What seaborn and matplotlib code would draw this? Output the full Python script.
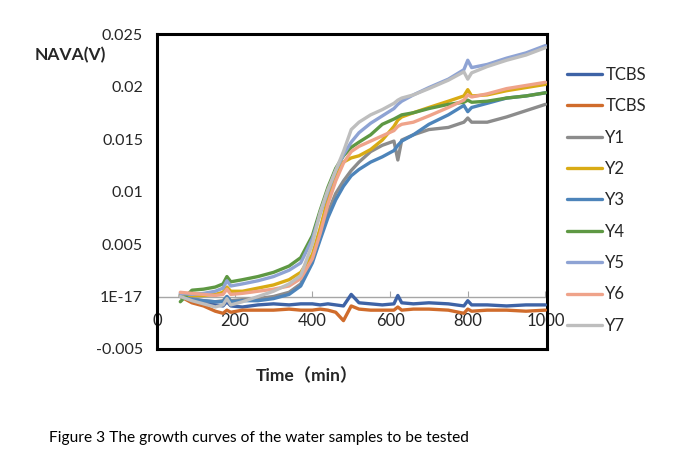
import numpy as np
import pandas as pd
import matplotlib
matplotlib.use("Agg")
import matplotlib.pyplot as plt
import seaborn as sns

# time axis (min), values in units of 1e-3 V
time = [60, 90, 120, 150, 170, 180, 190, 220, 260, 300, 340, 370, 400, 420, 440,
        460, 480, 500, 520, 550, 580, 610, 620, 630, 660, 700, 750, 790, 800, 810,
        850, 900, 950, 1000]

tcbs_1 = [0.2, -0.3, -0.6, -0.8, -0.9, -0.5, -0.9, -1.0, -0.8, -0.7, -0.8, -0.7, -0.7, -0.8, -0.7,
          -0.8, -0.9, 0.2, -0.6, -0.7, -0.8, -0.7, 0.1, -0.6, -0.7, -0.6, -0.7, -0.9, -0.4, -0.8,
          -0.8, -0.9, -0.8, -0.8]
tcbs_2 = [0.0, -0.6, -0.9, -1.4, -1.6, -1.3, -1.5, -1.3, -1.3, -1.3, -1.2, -1.3, -1.3, -1.2, -1.3,
          -1.5, -2.3, -0.9, -1.2, -1.3, -1.3, -1.3, -1.0, -1.3, -1.2, -1.2, -1.3, -1.6, -1.2, -1.4,
          -1.3, -1.3, -1.4, -1.3]
y1 = [0.1, -0.2, -0.4, -0.5, -0.4, 0.0, -0.4, -0.3, -0.2, 0.0, 0.4, 1.2, 3.5, 5.6, 8.0,
      9.8, 11.0, 12.0, 12.8, 13.8, 14.4, 14.8, 13.0, 14.9, 15.4, 15.9, 16.1, 16.6, 17.0, 16.6,
      16.6, 17.1, 17.7, 18.3]
y2 = [0.1, 0.1, 0.1, 0.2, 0.4, 0.9, 0.5, 0.5, 0.8, 1.1, 1.6, 2.3, 4.0, 6.5, 9.3,
      11.5, 12.8, 13.2, 13.4, 14.0, 14.9, 16.2, 16.8, 17.1, 17.5, 18.0, 18.6, 19.1, 19.7, 19.1,
      19.2, 19.6, 19.9, 20.2]
y3 = [0.0, -0.3, -0.4, -0.5, -0.5, 0.0, -0.5, -0.4, -0.4, -0.2, 0.2, 1.0, 3.2, 5.4, 7.5,
      9.2, 10.5, 11.5, 12.1, 12.8, 13.3, 13.9, 14.4, 14.8, 15.4, 16.4, 17.3, 18.2, 17.6, 18.0,
      18.4, 18.9, 19.1, 19.4]
y4 = [-0.5, 0.6, 0.7, 0.9, 1.2, 1.9, 1.4, 1.6, 1.9, 2.3, 2.9, 3.7, 5.8, 8.2, 10.4,
      12.2, 13.4, 14.2, 14.7, 15.4, 16.4, 16.9, 17.1, 17.3, 17.5, 17.9, 18.3, 18.5, 18.7, 18.5,
      18.6, 18.9, 19.1, 19.4]
y5 = [0.3, 0.2, 0.3, 0.5, 0.8, 1.5, 1.0, 1.2, 1.5, 1.9, 2.5, 3.2, 5.5, 7.9, 10.0,
      12.0, 13.5, 14.7, 15.6, 16.5, 17.2, 17.9, 18.3, 18.6, 19.2, 19.9, 20.7, 21.6, 22.5, 21.8,
      22.1, 22.7, 23.2, 23.9]
y6 = [0.4, 0.3, 0.2, 0.1, 0.2, 0.7, 0.2, 0.3, 0.5, 0.7, 1.0, 1.7, 3.6, 6.0, 8.8,
      11.0, 12.7, 13.8, 14.3, 14.8, 15.3, 15.8, 16.2, 16.4, 16.6, 17.2, 18.0, 18.7, 19.2, 19.0,
      19.3, 19.8, 20.1, 20.4]
y7 = [0.0, -0.4, -0.7, -1.0, -0.8, -0.2, -0.8, -0.5, 0.0, 0.5, 1.2, 2.0, 5.0, 8.0, 10.2,
      12.0, 13.8, 15.9, 16.6, 17.3, 17.8, 18.4, 18.7, 18.9, 19.2, 19.8, 20.6, 21.4, 20.7, 21.3,
      21.9, 22.5, 23.0, 23.7]

names = ["TCBS", "TCBS", "Y1", "Y2", "Y3", "Y4", "Y5", "Y6", "Y7"]
series = [tcbs_1, tcbs_2, y1, y2, y3, y4, y5, y6, y7]
colors = ["#3E63A6", "#D06C2C", "#8C8C8C", "#D9AB14", "#4D84BA",
          "#5E9843", "#8EA3D4", "#EFA38A", "#BEBEBE"]

y_ticks = [-0.005, 0.0, 0.005, 0.01, 0.015, 0.02, 0.025]
y_ticklabels = ["-0.005", "1E-17", "0.005", "0.01", "0.015", "0.02", "0.025"]
x_ticks = [0, 200, 400, 600, 800, 1000]

sns.set_style("white")
plt.rcParams["font.family"] = ["Lato", "Noto Sans CJK SC", "DejaVu Sans"]

fig = plt.figure(figsize=(6.75, 4.65), dpi=100)
ax = fig.add_axes([157 / 675, 1 - 349 / 465, 390 / 675, 315 / 465])

for name, vals, c in zip(names, series, colors):
    sns.lineplot(x=time, y=np.array(vals) * 1e-3, color=c, linewidth=2.4,
                 label=name, ax=ax, zorder=3)

ax.set_xlim(0, 1004)
ax.set_ylim(-0.005, 0.025)
ax.set_yticks(y_ticks)
ax.set_yticklabels(y_ticklabels, fontsize=11.5)
ax.tick_params(axis="y", direction="out", length=4, width=0.8, color="#a0a0a0", pad=6)
ax.set_xticks([])
ax.set_xlabel("")
ax.set_ylabel("")
for s in ["top", "right", "bottom", "left"]:
    ax.spines[s].set_color("black")
    ax.spines[s].set_linewidth(2.2)

# axis line crossing at zero
sec = ax.secondary_xaxis(1 / 6)
sec.set_xticks(x_ticks)
sec.set_xticklabels([str(v) for v in x_ticks], fontsize=12)
sec.spines["bottom"].set_color("#a6a6a6")
sec.spines["bottom"].set_linewidth(1.0)
sec.tick_params(axis="x", direction="in", length=4, width=0.8, color="#a6a6a6", pad=12)

ax.legend(loc="upper left", bbox_to_anchor=(567 / 675, 1 - 67 / 465),
          bbox_transform=fig.transFigure, frameon=False, fontsize=12,
          handlelength=2.1, handletextpad=0.2, labelspacing=0.92,
          borderpad=0, borderaxespad=0)

fig.text(70 / 675, 1 - 55 / 465, "NAVA(V)", fontsize=12.5, fontweight="bold",
         ha="center", va="center")
fig.text(307 / 675, 1 - 376 / 465, "Time（min）", fontsize=12.5, fontweight="bold",
         ha="center", va="center")
fig.text(259 / 675, 1 - 438 / 465,
         "Figure 3 The growth curves of the water samples to be tested",
         fontsize=11.2, color="black",
         ha="center", va="center")

fig.savefig("out.png", dpi=100)
